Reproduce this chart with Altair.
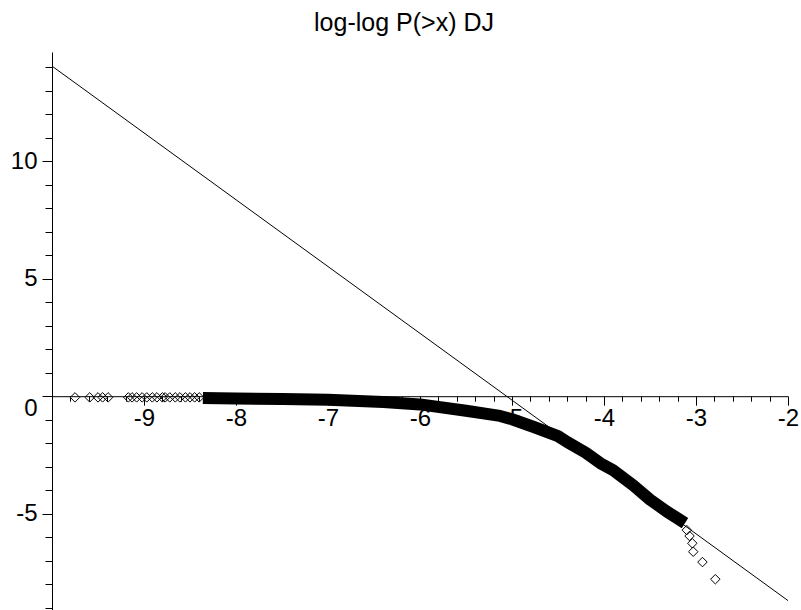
import altair as alt
import pandas as pd

title_text = "log-log P(>x) DJ"

# fitted straight line (two end points)
fit_x = [-10.0, -2.0]
fit_y = [14.05, -8.70]

# centre of the dense black band of data points
band_x = [-8.36, -8.0, -7.5, -7.0, -6.4, -6.0, -5.5, -5.13, -5.0, -4.77,
          -4.5, -4.4, -4.2, -4.04, -3.9, -3.68, -3.5, -3.32, -3.2, -3.12]
band_y = [-0.08, -0.10, -0.12, -0.15, -0.25, -0.35, -0.62, -0.84, -0.98, -1.30,
          -1.70, -1.95, -2.40, -2.85, -3.15, -3.80, -4.40, -4.90, -5.20, -5.40]

# sparse diamonds on the left tail
left_x = [-9.75, -9.59, -9.50, -9.45, -9.39, -9.17, -9.13, -9.08, -9.02, -8.97,
          -8.91, -8.86, -8.80, -8.77, -8.72, -8.66, -8.61, -8.55, -8.50, -8.45, -8.40]
left_y = [-0.05, -0.05, -0.05, -0.05, -0.05, -0.05, -0.05, -0.05, -0.05, -0.05,
          -0.05, -0.05, -0.05, -0.05, -0.05, -0.05, -0.05, -0.05, -0.05, -0.05, -0.05]

# sparse diamonds on the right tail
right_x = [-3.10, -3.07, -3.04, -3.03, -2.93, -2.79]
right_y = [-5.70, -5.95, -6.26, -6.62, -7.06, -7.79]

# axis ticks
x_ticks = [round(-10 + 0.2 * i, 1) for i in range(41)]
y_ticks = list(range(-9, 15))

X_DOMAIN = [-10, -2]
Y_DOMAIN = [-9.1, 14.65]
W, H = 736, 558
FONT = "Liberation Sans"

fit_df = pd.DataFrame({"x": fit_x, "y": fit_y})
band_df = pd.DataFrame({"x": band_x, "y": band_y})
pts_df = pd.DataFrame({"x": left_x + right_x, "y": left_y + right_y})

y0_px = H * (Y_DOMAIN[1] - 0) / (Y_DOMAIN[1] - Y_DOMAIN[0])
x_offset = -(H - y0_px)

x_axis = alt.Axis(
    orient="bottom",
    values=x_ticks,
    labelExpr="abs(datum.value - round(datum.value)) < 0.01 && datum.value > -9.5 ? '' + round(datum.value) : ''",
    tickSize={"condition": {"test": "abs(datum.value - round(datum.value)) < 0.01", "value": 9}, "value": 5},
    offset=x_offset,
    domainColor="black", tickColor="black", labelColor="black",
    domainWidth=1, tickWidth=1, ticks=True,
    labelFont=FONT, labelFontSize=24, labelPadding=1,
    labelAngle=0, labelBaseline="top", labelAlign="center",
    labelFlush=False, labelOverlap=False, grid=False, title=None,
)

y_axis = alt.Axis(
    orient="left",
    values=y_ticks,
    labelExpr="datum.value % 5 == 0 ? '' + datum.value : ''",
    tickSize={"condition": {"test": "datum.value % 5 == 0", "value": 10}, "value": 7},
    labelBaseline={"condition": {"test": "datum.value == 0", "value": "top"}, "value": "middle"},
    domainColor="black", tickColor="black", labelColor="black",
    domainWidth=1, tickWidth=1, ticks=True,
    labelFont=FONT, labelFontSize=24, labelPadding=5,
    labelAlign="right", labelFlush=False, labelOverlap=False, grid=False, title=None,
)

xs = alt.Scale(domain=X_DOMAIN, nice=False, zero=False)
ys = alt.Scale(domain=Y_DOMAIN, nice=False, zero=False)

X = alt.X("x:Q", scale=xs, axis=x_axis)
Y = alt.Y("y:Q", scale=ys, axis=y_axis)

band = alt.Chart(band_df).mark_line(color="black", strokeWidth=12, strokeCap="butt",
                                    strokeJoin="round").encode(x=X, y=Y)

pts = alt.Chart(pts_df).mark_point(shape="diamond", size=90, filled=False,
                                   color="black", strokeWidth=1, opacity=1).encode(x=X, y=Y)

fit = alt.Chart(fit_df).mark_line(color="black", strokeWidth=1, clip=True).encode(x=X, y=Y)

chart = alt.layer(band, pts, fit).properties(
    width=W, height=H,
    autosize=alt.AutoSizeParams(type="none"),
    padding={"left": 52, "top": 52, "right": 13, "bottom": 0},
    background="white",
    title=alt.TitleParams(text=title_text, font=FONT, fontSize=25, fontWeight="normal",
                          color="black", anchor="middle", frame="group", dx=-16, dy=26,
                          offset=22, baseline="alphabetic"),
).configure_view(stroke=None)

chart.save("out.html", embed_options={"renderer": "svg", "actions": False})
